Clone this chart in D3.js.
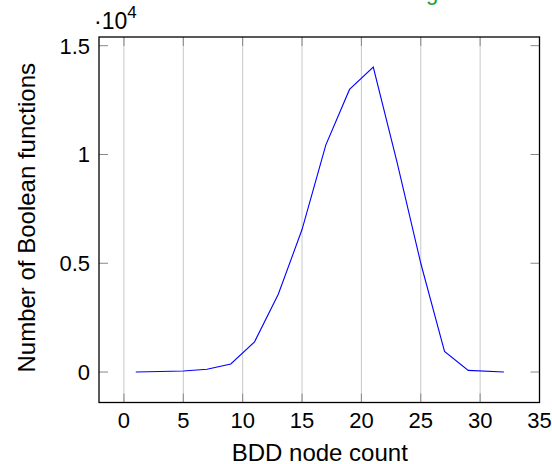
<!DOCTYPE html>
<html>
<head>
<meta charset="utf-8">
<script src="https://cdn.jsdelivr.net/npm/d3@7"></script>
<style>
  body { margin: 0; background: #fff; }
  svg text { font-family: "Liberation Sans", Arial, sans-serif; }
</style>
</head>
<body>
<div id="wrapper"></div>
<script>
// BDD node counts and how many Boolean functions have them
const nodeCount = [1, 5, 7, 9, 11, 13, 15, 17, 19, 21, 23, 25, 27, 29, 32];
const functionCount = [2, 50, 125, 370, 1390, 3575, 6550, 10430, 12990, 14015, 9650, 5000, 950, 78, 2];
const xTicks = [0, 5, 10, 15, 20, 25, 30, 35];
const yTicks = [0, 5000, 10000, 15000];
const yTickLabels = ["0", "0.5", "1", "1.5"];
const titleParts = ["Distribution of all", "BDD node sizes", "average", "over the inputs"];
const titleColors = ["#ff3b3b", "#333", "#1a9e2e", "#555"];
const titleX = [0, 190, 371, 474];

var W = 552, H = 464;
var plot = {left: 99, right: 539.5, top: 37, bottom: 402.5};

var svg = d3.select("#wrapper").append("svg").attr("width", W).attr("height", H);

var x = d3.scaleLinear().domain([-2.1, 35.0]).range([plot.left, plot.right]);
var y = d3.scaleLinear().domain([-1400, 15400]).range([plot.bottom, plot.top]);

// title, mostly above the top edge (only its descenders show)
svg.append("g").selectAll("text").data(titleParts).enter().append("text")
  .attr("x", (d, i) => titleX[i]).attr("y", 0)
  .attr("fill", (d, i) => titleColors[i]).style("font-size", "22px")
  .text(d => d);

// vertical grid
svg.append("g").selectAll("line").data(xTicks).enter().append("line")
  .attr("x1", d => x(d)).attr("x2", d => x(d))
  .attr("y1", plot.top).attr("y2", plot.bottom)
  .attr("stroke", "#c8c8c8").attr("stroke-width", 1);

// ticks (inside, on all four sides)
var tl = 9;
var ticks = svg.append("g").attr("stroke", "#888").attr("stroke-width", 1);
xTicks.forEach(function(d) {
  ticks.append("line").attr("x1", x(d)).attr("x2", x(d)).attr("y1", plot.bottom).attr("y2", plot.bottom - tl);
  ticks.append("line").attr("x1", x(d)).attr("x2", x(d)).attr("y1", plot.top).attr("y2", plot.top + tl);
});
yTicks.forEach(function(d) {
  ticks.append("line").attr("x1", plot.left).attr("x2", plot.left + tl).attr("y1", y(d)).attr("y2", y(d));
  ticks.append("line").attr("x1", plot.right).attr("x2", plot.right - tl).attr("y1", y(d)).attr("y2", y(d));
});

// data line
var line = d3.line().x((d, i) => x(nodeCount[i])).y(d => y(d));
svg.append("path").datum(functionCount)
  .attr("d", line).attr("fill", "none")
  .attr("stroke", "#0000ff").attr("stroke-width", 1.1);

// frame
svg.append("rect").attr("x", plot.left).attr("y", plot.top)
  .attr("width", plot.right - plot.left).attr("height", plot.bottom - plot.top)
  .attr("fill", "none").attr("stroke", "#000").attr("stroke-width", 1.3);

// tick labels
svg.append("g").selectAll("text").data(xTicks).enter().append("text")
  .attr("x", d => x(d)).attr("y", 428)
  .attr("text-anchor", "middle").style("font-size", "22px").attr("fill", "#000")
  .text(d => d);

svg.append("g").selectAll("text").data(yTicks).enter().append("text")
  .attr("x", 90).attr("y", d => y(d)).attr("dy", "0.36em")
  .attr("text-anchor", "end").style("font-size", "22px").attr("fill", "#000")
  .text((d, i) => yTickLabels[i]);

// scale factor
var sf = svg.append("text").attr("x", 94).attr("y", 28.5).style("font-size", "23px");
sf.append("tspan").text("\u00b710");
sf.append("tspan").attr("dy", -11).style("font-size", "17px").text("4");

// axis titles
svg.append("text").attr("x", (plot.left + plot.right) / 2 + 0.5).attr("y", 461)
  .attr("text-anchor", "middle").style("font-size", "24px").text("BDD node count");

svg.append("text").attr("transform", "translate(35," + ((plot.top + plot.bottom) / 2 - 2) + ") rotate(-90)")
  .attr("text-anchor", "middle").style("font-size", "24px").text("Number of Boolean functions");
</script>
</body>
</html>
